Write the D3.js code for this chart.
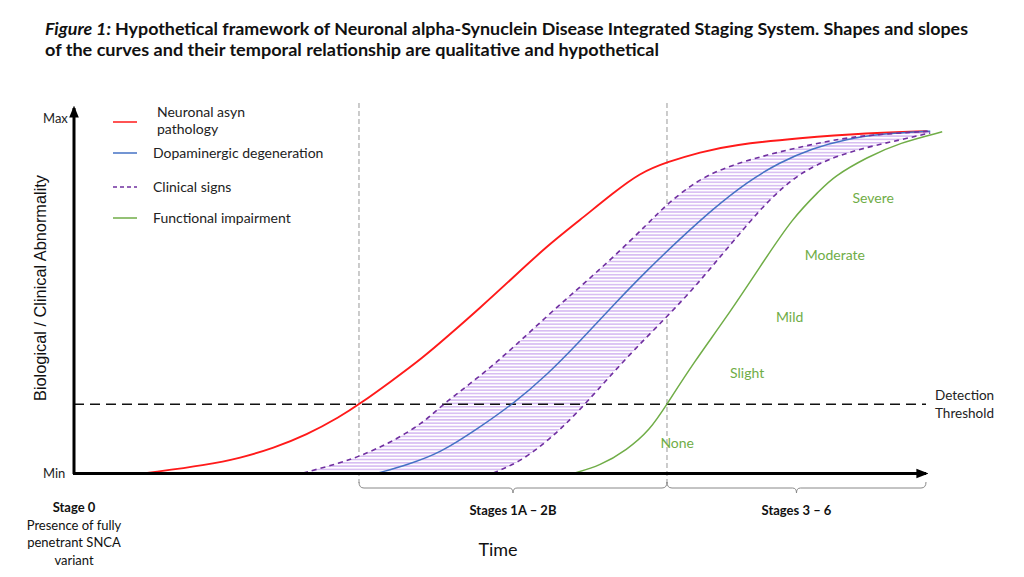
<!DOCTYPE html>
<html>
<head>
<meta charset="utf-8">
<script src="https://cdn.jsdelivr.net/npm/d3@7/dist/d3.min.js"></script>
<style>
  html, body { margin: 0; padding: 0; background: #fff; }
  svg { display: block; }
</style>
</head>
<body>
<div id="chart"></div>
<script>
// Staging framework figure: qualitative curves over time
// values are in arbitrary units: time 0-100, abnormality 0 (Min) - 100 (Max)

const titleLines = [
    'Hypothetical framework of Neuronal alpha-Synuclein Disease Integrated Staging System. Shapes and slopes',
    'of the curves and their temporal relationship are qualitative and hypothetical'
];

const legendLabels = [['Neuronal asyn', 'pathology'], ['Dopaminergic degeneration'], ['Clinical signs'], ['Functional impairment']];

// [time, abnormality]
const asynPathology = [
    [8.6, 0], [15.6, 2.3], [19.5, 4.2], [23.4, 7.0], [27.3, 10.7], [31.2, 15.8],
    [33.5, 19.4], [37.1, 25.6], [41.0, 32.6], [43.8, 38.4], [47.7, 46.6], [51.5, 55.0],
    [55.5, 63.9], [59.4, 71.3], [63.3, 78.9], [66.4, 84.5], [69.6, 87.6], [73.5, 90.4],
    [77.3, 92.4], [85.2, 94.4], [93.1, 95.8], [100.1, 96.3]
];

const dopaminergic = [
    [35.7, 0], [39.1, 2.3], [43.0, 5.6], [47.7, 13.0], [51.5, 19.4], [55.5, 27.6],
    [59.4, 37.2], [63.3, 47.3], [67.3, 57.2], [71.1, 65.9], [75.0, 74.4], [79.0, 82.0],
    [82.9, 87.6], [86.7, 91.5], [90.7, 94.1], [94.6, 95.5], [100.5, 96.3]
];

const clinicalEarly = [
    [26.9, 0], [31.2, 2.8], [33.6, 4.8], [37.1, 8.5], [41.0, 14.1], [43.3, 19.4],
    [47.7, 27.3], [51.5, 35.2], [55.5, 44.2], [59.4, 52.4], [63.3, 60.8], [67.3, 70.1],
    [69.6, 75.8], [73.5, 83.1], [77.3, 86.8], [81.3, 89.6], [85.2, 91.8], [89.1, 93.8],
    [93.1, 95.2], [100.5, 96.3]
];

const clinicalLate = [
    [49.2, 0], [52.3, 3.1], [55.3, 8.5], [57.6, 13.5], [60.0, 19.4], [64.9, 32.7],
    [69.6, 44.0], [73.1, 53.0], [76.6, 63.1], [80.5, 74.1], [82.5, 78.9], [85.2, 84.5],
    [89.1, 89.0], [93.1, 91.8], [96.9, 93.8], [100.5, 95.8]
];

const functional = [
    [58.8, 0], [61.7, 2.0], [64.9, 6.5], [67.6, 12.1], [69.6, 19.4], [72.7, 31.0],
    [76.6, 43.9], [80.5, 58.0], [84.4, 72.1], [87.6, 79.7], [89.1, 83.4], [93.1, 89.0],
    [96.9, 93.0], [101.9, 96.1]
];

const severityLabels = ['None', 'Slight', 'Mild', 'Moderate', 'Severe'];
const stageBoundaries = [33.45, 69.6];
const stageLabels = ['Stages 1A \u2013 2B', 'Stages 3 \u2013 6'];
const stage0Lines = ['Stage 0', 'Presence of fully', 'penetrant SNCA', 'variant'];
const detectionThreshold = 19.4;

(function draw() {
    const W = 1024, H = 577;
    const sans = 'Lato, "Open Sans", sans-serif';

    const svg = d3.select('#chart').append('svg')
        .attr('width', W)
        .attr('height', H);

    const defs = svg.append('defs');

    // horizontal hatch for the clinical band
    const hatch = defs.append('pattern')
        .attr('id', 'hatch')
        .attr('patternUnits', 'userSpaceOnUse')
        .attr('width', 8)
        .attr('height', 3.3);
    hatch.append('rect').attr('width', 8).attr('height', 3.3).attr('fill', '#fff');
    hatch.append('line')
        .attr('x1', 0).attr('x2', 8)
        .attr('y1', 0.8).attr('y2', 0.8)
        .attr('stroke', '#cba8ef')
        .attr('stroke-width', 1.2);

    defs.append('marker')
        .attr('id', 'arrow')
        .attr('viewBox', '0 0 10 10')
        .attr('refX', 8).attr('refY', 5)
        .attr('markerWidth', 4).attr('markerHeight', 4)
        .attr('orient', 'auto')
        .append('path')
        .attr('d', 'M0,1 L10,5 L0,9 Z')
        .attr('fill', '#000');

    // title
    const title = svg.append('text')
        .attr('x', 45)
        .attr('y', 35)
        .attr('font-family', sans)
        .attr('font-weight', 'bold')
        .attr('font-size', 17)
        .attr('fill', '#111')
        .attr('textLength', 923)
        .attr('lengthAdjust', 'spacingAndGlyphs');
    title.append('tspan').attr('font-style', 'italic').text('Figure 1: ');
    title.append('tspan').text(titleLines[0]);

    svg.append('text')
        .attr('x', 45)
        .attr('y', 56)
        .attr('font-family', sans)
        .attr('font-weight', 'bold')
        .attr('font-size', 17)
        .attr('fill', '#111')
        .attr('textLength', 614)
        .attr('lengthAdjust', 'spacingAndGlyphs')
        .text(titleLines[1]);

    // scales
    const x = d3.scaleLinear().domain([0, 100]).range([74, 926]);
    const y = d3.scaleLinear().domain([0, 100]).range([473, 118]);

    const line = d3.line()
        .x(d => x(d[0]))
        .y(d => y(d[1]))
        .curve(d3.curveBasis);

    // stage boundaries
    svg.selectAll('.stage-line')
        .data(stageBoundaries)
        .enter()
        .append('line')
        .attr('class', 'stage-line')
        .attr('x1', d => x(d)).attr('x2', d => x(d))
        .attr('y1', 103).attr('y2', 483)
        .attr('stroke', '#999')
        .attr('stroke-width', 1)
        .attr('stroke-dasharray', '5,3');

    // clinical band fill
    const bandPath = line(clinicalEarly) + 'L' +
        line(clinicalLate.slice().reverse()).slice(1) + 'Z';
    svg.append('path')
        .attr('d', bandPath)
        .attr('fill', 'url(#hatch)')
        .attr('stroke', 'none');

    // detection threshold
    svg.append('line')
        .attr('x1', x(0)).attr('x2', x(100))
        .attr('y1', y(detectionThreshold)).attr('y2', y(detectionThreshold))
        .attr('stroke', '#111')
        .attr('stroke-width', 1.5)
        .attr('stroke-dasharray', '10,6');

    svg.append('text')
        .attr('x', 935)
        .attr('font-family', sans)
        .attr('font-size', 13.5)
        .attr('fill', '#222')
        .selectAll('tspan')
        .data(['Detection', 'Threshold'])
        .enter()
        .append('tspan')
        .attr('x', 935)
        .attr('y', (d, i) => 400 + i * 18)
        .text(d => d);

    // curves
    const series = [
        { data: asynPathology, color: '#ff1a1a', width: 1.9, dash: null },
        { data: dopaminergic, color: '#4472c4', width: 1.5, dash: null },
        { data: clinicalEarly, color: '#7030a0', width: 1.6, dash: '5,4' },
        { data: clinicalLate, color: '#7030a0', width: 1.6, dash: '5,4' },
        { data: functional, color: '#70ad47', width: 1.5, dash: null }
    ];

    svg.selectAll('.curve')
        .data(series)
        .enter()
        .append('path')
        .attr('class', 'curve')
        .attr('d', d => line(d.data))
        .attr('fill', 'none')
        .attr('stroke', d => d.color)
        .attr('stroke-width', d => d.width)
        .attr('stroke-dasharray', d => d.dash);

    // severity labels along the functional curve
    const severityAnchors = [[70.8, 8.5], [79.0, 28.2], [84.0, 43.9], [89.3, 61.4], [93.8, 77.5]];
    svg.selectAll('.severity')
        .data(severityLabels)
        .enter()
        .append('text')
        .attr('class', 'severity')
        .attr('x', (d, i) => x(severityAnchors[i][0]))
        .attr('y', (d, i) => y(severityAnchors[i][1]) + 5)
        .attr('text-anchor', 'middle')
        .attr('font-family', sans)
        .attr('font-size', 14)
        .attr('fill', '#70ad47')
        .text(d => d);

    // axes with arrows
    svg.append('line')
        .attr('x1', 74).attr('x2', 74)
        .attr('y1', 474).attr('y2', 108)
        .attr('stroke', '#000')
        .attr('stroke-width', 3)
        .attr('marker-end', 'url(#arrow)');

    svg.append('line')
        .attr('x1', 73).attr('x2', 926)
        .attr('y1', 473.5).attr('y2', 473.5)
        .attr('stroke', '#000')
        .attr('stroke-width', 3)
        .attr('marker-end', 'url(#arrow)');

    svg.append('text')
        .attr('x', 43).attr('y', 123)
        .attr('font-family', sans)
        .attr('font-size', 13)
        .attr('fill', '#222')
        .text('Max');

    svg.append('text')
        .attr('x', 43).attr('y', 478)
        .attr('font-family', sans)
        .attr('font-size', 13)
        .attr('fill', '#222')
        .text('Min');

    svg.append('text')
        .attr('transform', 'translate(46,288) rotate(-90)')
        .attr('text-anchor', 'middle')
        .attr('font-family', '"Liberation Sans", Arial, sans-serif')
        .attr('font-size', 17)
        .attr('fill', '#111')
        .attr('textLength', 226)
        .attr('lengthAdjust', 'spacingAndGlyphs')
        .text('Biological / Clinical Abnormality');

    // legend
    const legendColors = ['#ff1a1a', '#4472c4', '#7030a0', '#70ad47'];
    const legendY = [122, 153, 187, 218];
    const legendTextX = [157, 153, 153, 153];
    const legend = svg.append('g').attr('class', 'legend');
    legendLabels.forEach((lines, i) => {
        legend.append('line')
            .attr('x1', 113).attr('x2', 137)
            .attr('y1', legendY[i]).attr('y2', legendY[i])
            .attr('stroke', legendColors[i])
            .attr('stroke-width', 1.5)
            .attr('stroke-dasharray', i === 2 ? '4,3' : null);
        const t = legend.append('text')
            .attr('font-family', sans)
            .attr('font-size', 14)
            .attr('fill', '#222');
        const top = lines.length === 2 ? 117 : legendY[i] + 5;
        lines.forEach((s, j) => {
            t.append('tspan')
                .attr('x', legendTextX[i])
                .attr('y', top + j * 17)
                .text(s);
        });
    });

    // stage braces
    const braceEdges = [stageBoundaries[0], stageBoundaries[1], 100];
    const braces = d3.pairs(braceEdges).map(p => [x(p[0]), x(p[1])]);
    svg.selectAll('.brace')
        .data(braces)
        .enter()
        .append('path')
        .attr('class', 'brace')
        .attr('d', d => {
            const x0 = d[0], x1 = d[1], m = (x0 + x1) / 2;
            const y0 = 482, y1 = 488, y2 = 493;
            return `M${x0},${y0} Q${x0},${y1} ${x0 + 5},${y1} L${m - 4},${y1} Q${m},${y1} ${m},${y2}` +
                ` Q${m},${y1} ${m + 4},${y1} L${x1 - 5},${y1} Q${x1},${y1} ${x1},${y0}`;
        })
        .attr('fill', 'none')
        .attr('stroke', '#888')
        .attr('stroke-width', 1);

    svg.selectAll('.stage-label')
        .data(stageLabels)
        .enter()
        .append('text')
        .attr('class', 'stage-label')
        .attr('x', (d, i) => (braces[i][0] + braces[i][1]) / 2)
        .attr('y', 515)
        .attr('text-anchor', 'middle')
        .attr('font-family', sans)
        .attr('font-weight', 'bold')
        .attr('font-size', 13)
        .attr('fill', '#111')
        .text(d => d);

    svg.append('text')
        .attr('font-family', sans)
        .attr('font-size', 13)
        .attr('fill', '#111')
        .attr('text-anchor', 'middle')
        .selectAll('tspan')
        .data(stage0Lines)
        .enter()
        .append('tspan')
        .attr('x', 74)
        .attr('y', (d, i) => 512 + i * 17.5)
        .attr('font-weight', (d, i) => i === 0 ? 'bold' : null)
        .text(d => d);

    svg.append('text')
        .attr('x', 498).attr('y', 556)
        .attr('text-anchor', 'middle')
        .attr('font-family', sans)
        .attr('font-size', 18)
        .attr('fill', '#111')
        .text('Time');
})();
</script>
</body>
</html>
